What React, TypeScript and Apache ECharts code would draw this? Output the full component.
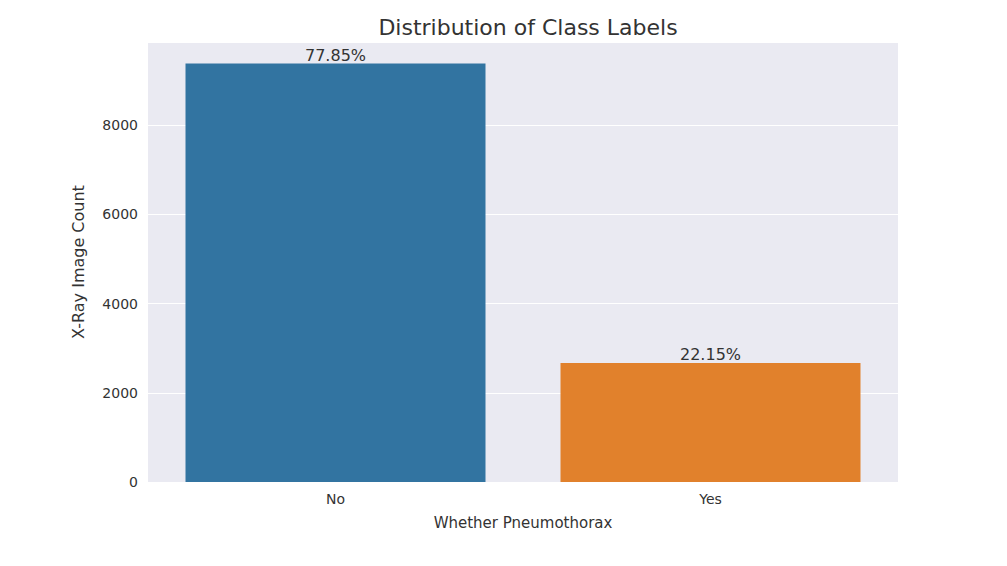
import { useEffect, useRef } from "react";
import * as echarts from "echarts";

const categories = ["No", "Yes"];
const counts = [9378, 2669];
const percentLabels = ["77.85%", "22.15%"];
const barColors = ["#3274a1", "#e1812c"];
const yTicks = [0, 2000, 4000, 6000, 8000];

export default function App() {
    const chartRef = useRef<HTMLDivElement>(null);

    useEffect(() => {
        if (!chartRef.current) return;
        const chart = echarts.init(chartRef.current, null, { renderer: "svg" });
        const font = "DejaVu Sans";
        chart.setOption({
            animation: false,
            textStyle: { fontFamily: font },
            title: {
                text: "Distribution of Class Labels",
                left: 515,
                top: 3,
                textAlign: "center",
                textStyle: { fontSize: 22, fontWeight: "normal", color: "#333333", fontFamily: font },
            },
            grid: { left: 140, right: 101, top: 34, bottom: 76, backgroundColor: "#eaeaf2", show: true, borderWidth: 0 },
            xAxis: {
                type: "category",
                data: categories,
                name: "Whether Pneumothorax",
                nameLocation: "middle",
                nameGap: 33,
                nameTextStyle: { fontSize: 15, color: "#333333" },
                axisLine: { show: false },
                axisTick: { show: false },
                axisLabel: { fontSize: 14, color: "#333333", margin: 10 },
            },
            yAxis: {
                type: "value",
                min: 0,
                max: 9860,
                interval: 2000,
                name: "X-Ray Image Count",
                nameLocation: "middle",
                nameGap: 62,
                nameTextStyle: { fontSize: 16, color: "#333333" },
                axisLine: { show: false },
                axisTick: { show: false },
                axisLabel: {
                    fontSize: 14,
                    color: "#333333",
                    margin: 10,
                    formatter: (v: number) => (yTicks.includes(v) ? String(v) : ""),
                },
                splitLine: { lineStyle: { color: "#ffffff", width: 1 } },
            },
            series: [
                {
                    type: "bar",
                    barWidth: "80%",
                    data: counts.map((v, i) => ({ value: v, itemStyle: { color: barColors[i] } })),
                    label: {
                        show: true,
                        position: "top",
                        distance: 0,
                        fontSize: 16,
                        color: "#333333",
                        formatter: (p: any) => percentLabels[p.dataIndex],
                    },
                },
            ],
        });
        return () => chart.dispose();
    }, []);

    return <div ref={chartRef} style={{ width: 991, height: 550 }} />;
}
